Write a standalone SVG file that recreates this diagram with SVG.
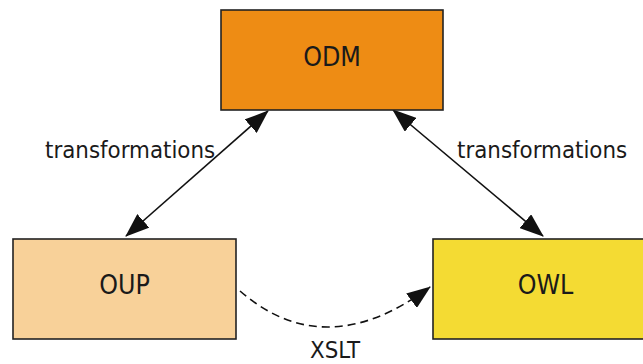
<svg xmlns="http://www.w3.org/2000/svg" width="643" height="364" viewBox="0 0 643 364">
<style>
.box{stroke:#222;stroke-width:1.6}
.lbl{font-family:"DejaVu Sans Condensed","DejaVu Sans",sans-serif;fill:#1a1a1a}
.node{font-size:26.5px;text-anchor:middle}
.edge{font-size:23.8px}
.conn{stroke:#111;stroke-width:1.6;fill:none}
</style>
<defs>
<marker id="ah" markerUnits="userSpaceOnUse" markerWidth="24" markerHeight="18" refX="23" refY="9" orient="auto-start-reverse" viewBox="0 0 24 18">
<path d="M0,0 L24,9 L0,18 z" fill="#111"/>
</marker>
</defs>
<rect width="643" height="364" fill="#fff"/>
<g id="connectors">
<line class="conn" x1="268" y1="111" x2="126" y2="236" marker-start="url(#ah)" marker-end="url(#ah)"/>
<line class="conn" x1="393" y1="110" x2="543" y2="236" marker-start="url(#ah)" marker-end="url(#ah)"/>
<path class="conn" d="M240,291 Q325,365 430,287" stroke-dasharray="8,5" marker-end="url(#ah)"/>
<text class="lbl edge" x="45" y="158">transformations</text>
<text class="lbl edge" x="457" y="158">transformations</text>
<text class="lbl edge" x="335" y="358" text-anchor="middle">XSLT</text>
</g>
<g id="ODM">
<rect class="box" x="221" y="10" width="222" height="100" fill="#EE8C14"/>
<text class="lbl node" x="332" y="66">ODM</text>
</g>
<g id="OUP">
<rect class="box" x="13" y="239" width="223" height="100" fill="#F8D199"/>
<text class="lbl node" x="124.5" y="294">OUP</text>
</g>
<g id="OWL">
<rect class="box" x="433" y="239" width="225" height="100" fill="#F4DB33"/>
<text class="lbl node" x="545.5" y="294">OWL</text>
</g>
</svg>
